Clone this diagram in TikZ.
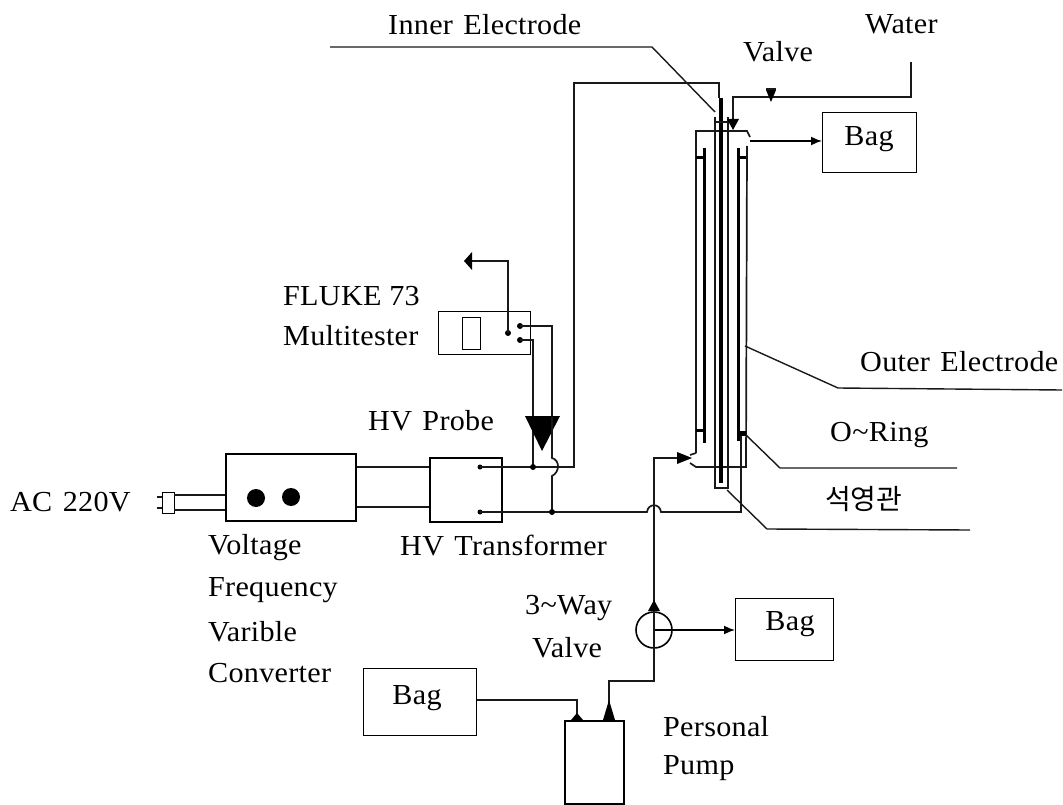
\documentclass[tikz,border=0pt]{standalone}
\usepackage{fontspec}
\setmainfont[FakeStretch=1.04,LetterSpace=1]{Liberation Serif}
\newfontfamily\krfont{Noto Sans CJK KR}
\usetikzlibrary{arrows.meta}
\newcommand{\wsp}{\hspace{0.36em}}
\tikzset{
 wire/.style={line width=1.7pt,black!90},
 thin wire/.style={line width=1.4pt,black!90},
 thick bar/.style={line width=3pt,black},
 unit/.style={draw,line width=1.7pt,inner sep=0pt,anchor=north west},
 lab/.style={inner sep=0pt,anchor=west,font=\fontsize{29}{32}\selectfont},
 baglab/.style={inner sep=0pt,anchor=center,font=\fontsize{29}{32}\selectfont},
 dot/.style={circle,fill=black,inner sep=0pt,minimum size=7pt},
 flow/.style={-{Latex[length=11pt,width=9pt]},line width=1.6pt},
}
\begin{document}
\begin{tikzpicture}[x=1pt,y=-1pt]
\useasboundingbox (0,0) rectangle (1063,805);
% labels
\node[lab] at (388,25) {Inner\wsp Electrode};
\node[lab] at (743,52) {Valve};
\node[lab] at (865,24) {Water};
\node[lab] at (283,296) {FLUKE 73};
\node[lab] at (283,336) {Multitester};
\node[lab] at (368,421) {HV\wsp Probe};
\node[lab] at (10,502) {AC\wsp 220V};
\node[lab] at (400,546) {HV\wsp Transformer};
\node[lab] at (208,548) {Voltage};
\node[lab] at (208,590) {Frequency};
\node[lab] at (208,632) {Varible};
\node[lab] at (208,673) {Converter};
\node[lab] at (525,608) {3\textasciitilde Way};
\node[lab] at (532,648) {Valve};
\node[lab] at (663,727) {Personal};
\node[lab] at (663,768) {Pump};
\node[lab] at (860,362) {Outer\wsp Electrode};
\node[lab] at (830,435) {O\textasciitilde Ring};
\node[lab] at (825,499) {\krfont\fontsize{28}{30}\selectfont 석영관};
% boxes
\node[unit,minimum width=130pt,minimum height=67pt] (conv) at (225,453) {};
\node[unit,minimum width=72pt,minimum height=64pt] (trans) at (429,457) {};
\node[unit,minimum width=92pt,minimum height=43pt,line width=1.3pt] (meter) at (438,311) {};
\node[unit,minimum width=18pt,minimum height=32pt,line width=1.2pt] (disp) at (462,317) {};
\node[unit,minimum width=12pt,minimum height=21pt,line width=1.3pt] (plug) at (162,492) {};
\node[unit,minimum width=94pt,minimum height=60pt,line width=1.4pt] (bagA) at (822,112) {};
\node[unit,minimum width=98pt,minimum height=62pt,line width=1.4pt] (bagB) at (735,598) {};
\node[unit,minimum width=113pt,minimum height=67pt,line width=1.4pt] (bagC) at (363,668) {};
\node[baglab] (bagAt) at (869,139) {Bag};
\node[baglab] (bagBt) at (790,624) {Bag};
\node[baglab] (bagCt) at (417,698) {Bag};
\node[unit,minimum width=59pt,minimum height=83pt] (pump) at (564,720) {};
\node[circle,fill=black,inner sep=0pt,minimum size=18pt] (knobA) at (256,498) {};
\node[circle,fill=black,inner sep=0pt,minimum size=18pt] (knobB) at (291,497) {};
\node[circle,draw,line width=1.6pt,inner sep=0pt,minimum size=36pt] (tw) at (654,630) {};
% plug
\coordinate (pa) at (174,495); \coordinate (pb) at (174,510);
\draw[wire] (pa) -- (conv.west |- pa);
\draw[wire] (pb) -- (conv.west |- pb);
\draw[wire] (162,497) -- (157,497) (162,508) -- (157,508);
% converter to transformer
\draw[wire] (conv.east |- 0,467) -- (trans.west |- 0,467);
\draw[wire] (conv.east |- 0,507) -- (trans.west |- 0,507);
% transformer terminals
\node[dot,minimum size=5pt] (tAd) at (480,467) {};
\node[dot,minimum size=5pt] (tBd) at (480,512) {};
% HV wire
\draw[wire] (tAd.center) -- (574,467) -- (574,83) -- (719,83) -- (719,98);
\draw[wire] (tBd.center) -- (647,512) .. controls (648,503) and (660,503) .. (661,512) -- (741,512) -- (741,432);
% meter
\node[dot,minimum size=6pt] (mA) at (520,326) {};
\node[dot,minimum size=6pt] (mB) at (520,340) {};
\node[dot,minimum size=6pt] (mC) at (508,333) {};
\draw[thin wire] (mC.center) -- (508,261) -- (472,261);
\fill[black] (464,261) -- (472,252) -- (472,270) -- cycle;
\draw[wire] (mA.center) -- (552,326) -- (552,417);
\draw[wire] (mB.center) -- (533,340) -- (533,467);
\node[dot,minimum size=6pt] (jA) at (533,467) {};
% probe triangle
\fill[black] (525,416) -- (560,416) -- (542,451) -- cycle;
% hop of probe wire
\draw[wire] (552,417) -- (552,458) .. controls (560,460) and (560,472) .. (552,476) -- (552,512);
\node[dot,minimum size=6pt] (jB) at (552,512) {};
% reactor: outer jacket
\draw[wire] (696,453) -- (696,131) -- (747,131) -- (750,137);
\draw[wire] (747,146) -- (746,467) -- (696,467) -- (690,463);
\draw[wire] (696,453) -- (690,455);
% inner tube
\draw[wire] (715,117) -- (715,488) -- (728,488) -- (728,117);
\draw[thick bar,line width=4pt] (721,98) -- (721,483);
\draw[wire] (716,122) -- (732,122);
% outer electrode bars
\draw[thick bar] (704,148) -- (704,443);
\draw[thick bar] (738,148) -- (738,441);
\draw[thick bar] (696,158) -- (704,158) (738,158) -- (746,158);
\draw[thick bar] (696,430) -- (704,430);
\draw[thick bar,line width=5pt] (738,433) -- (746,433);
% water
\draw[wire] (911,62) -- (911,97) -- (733,97) -- (733,122);
\fill[black] (727,119) -- (739,119) -- (733,130) -- cycle;
\fill[black] (766,90) -- (776,90) -- (771,102) -- cycle;
\draw[wire] (766,89) -- (776,89);
% outlet to bag
\draw[flow] (750,141) -- (bagA.west |- 0,141);
% leaders
\draw[thin wire] (330,47) -- (652,47) -- (715,112);
\draw[thin wire] (745,346) -- (838,388) -- (1062,390);
\draw[thin wire] (746,435) -- (780,468) -- (957,468);
\draw[thin wire] (727,490) -- (767,529) -- (970,530);
% pump lines
\draw[wire] (bagC.east |- 0,700) -- (577,700) -- (577,720);
\fill[black] (571,720) -- (583,720) -- (577,713) -- cycle;
\draw[wire] (609,720) -- (609,681) -- (654,681) -- (tw.south);
\fill[black] (603,720) -- (615,720) -- (609,700) -- cycle;
\draw[wire] (tw.south) -- (654,458) -- (690,458);
\fill[black] (677,452) -- (677,464) -- (692,458) -- cycle;
\fill[black] (648,611) -- (660,611) -- (654,600) -- cycle;
\draw[flow] (tw.center) -- (bagB.west |- tw.center);
\draw[wire] (tw.north) -- (tw.south);
\end{tikzpicture}
\end{document}
